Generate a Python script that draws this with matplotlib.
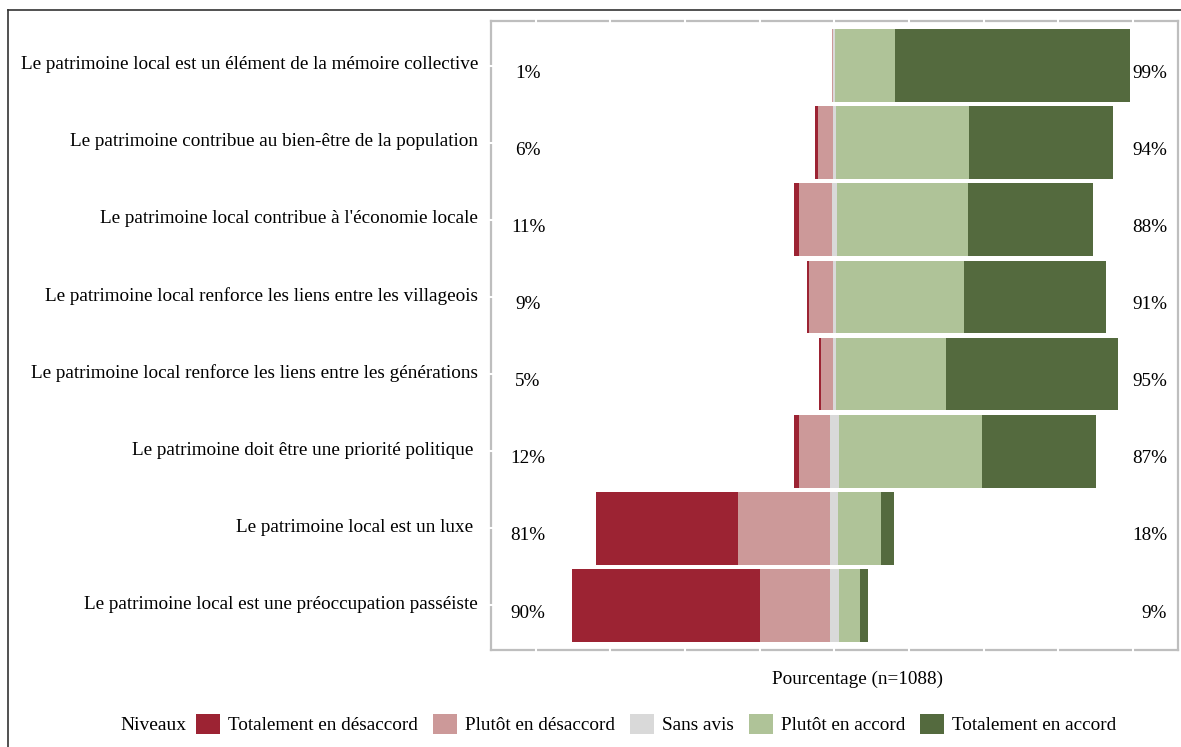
import numpy as np
import matplotlib
matplotlib.use("Agg")
from matplotlib import pyplot as plt
from matplotlib.lines import Line2D
from matplotlib.transforms import ScaledTranslation

plt.rcParams['font.family'] = ['Liberation Serif', 'DejaVu Serif']
fs = 13.8

questions = [
    "Le patrimoine local est un élément de la mémoire collective",
    "Le patrimoine contribue au bien-être de la population",
    "Le patrimoine local contribue à l'économie locale",
    "Le patrimoine local renforce les liens entre les villageois",
    "Le patrimoine local renforce les liens entre les générations",
    "Le patrimoine doit être une priorité politique ",
    "Le patrimoine local est un luxe ",
    "Le patrimoine local est une préoccupation passéiste",
]
levels = ["Totalement en désaccord", "Plutôt en désaccord", "Sans avis",
          "Plutôt en accord", "Totalement en accord"]
colors = ["#9c2333", "#cc9999", "#d9d9d9", "#afc398", "#546a3e"]

# percentages per level
tot_des = np.array([0.0, 1.0, 1.6, 0.7, 0.7, 1.7, 47.3, 63.0])
plut_des = np.array([0.5, 5.0, 11.0, 8.0, 4.0, 10.3, 31.0, 23.3])
sans_avis = np.array([0.6, 1.2, 1.9, 1.1, 0.8, 3.0, 2.6, 3.0])
plut_acc = np.array([20.1, 44.4, 43.8, 42.9, 36.9, 48.0, 14.3, 7.0])
tot_acc = np.array([78.6, 48.3, 41.7, 47.3, 57.7, 38.0, 4.3, 2.7])

low_pct = ["1%", "6%", "11%", "9%", "5%", "12%", "81%", "90%"]
high_pct = ["99%", "94%", "88%", "91%", "95%", "87%", "18%", "9%"]

W, H = 1181, 747
fig = plt.figure(figsize=(W / 100, H / 100), dpi=100)
ax = fig.add_axes([490.7 / W, 1 - 650 / H, (1178 - 490.7) / W, (650 - 21) / H])

y = np.arange(len(questions))
h = 0.944
half = sans_avis / 2

handles = []
handles.append(ax.barh(y, tot_des, h, left=-half - plut_des - tot_des, color=colors[0]))
handles.append(ax.barh(y, plut_des, h, left=-half - plut_des, color=colors[1]))
handles.append(ax.barh(y, sans_avis, h, left=-half, color=colors[2]))
handles.append(ax.barh(y, plut_acc, h, left=half, color=colors[3]))
handles.append(ax.barh(y, tot_acc, h, left=half + plut_acc, color=colors[4]))

for i in range(len(questions)):
    ax.text(-102.5, y[i] + 0.1, low_pct[i], ha='center', va='center', fontsize=fs)
    ax.text(111.3, y[i] + 0.1, high_pct[i], ha='right', va='center', fontsize=fs)

ax.set_xlim(-115, 115)
ax.set_ylim(len(questions) - 0.42, -0.58)
ax.set_yticks(y, questions, fontsize=fs)
ax.tick_params(axis='y', length=0, pad=9)
for lbl in ax.get_yticklabels():
    lbl.set_transform(lbl.get_transform() + ScaledTranslation(0, 0.03, fig.dpi_scale_trans))
ax.set_xticks([])
for s in ax.spines.values():
    s.set_color('#bebebe')
    s.set_linewidth(1.6)

# white gaps in the frame at the grid positions
xt = np.arange(-100, 101, 25)
ax.vlines(xt, -0.01, 0.01, transform=ax.get_xaxis_transform(), color='white', lw=1.5, clip_on=False, zorder=5)
ax.vlines(xt, 0.99, 1.01, transform=ax.get_xaxis_transform(), color='white', lw=1.5, clip_on=False, zorder=5)
ax.hlines(y, -0.004, 0.004, transform=ax.get_yaxis_transform(), color='white', lw=1.5, clip_on=False, zorder=5)

fig.text(858 / W, 1 - 679 / H, "Pourcentage (n=1088)", ha='center', va='center', fontsize=fs)

fig.text(120 / W, 1 - 725 / H, "Niveaux", ha='left', va='center', fontsize=14)
fig.legend(handles, levels, ncol=5, loc='center left', bbox_to_anchor=(196 / W, 1 - 724 / H),
           frameon=False, fontsize=fs, handlelength=1.25, handleheight=1.25,
           handletextpad=0.42, columnspacing=0.78, borderpad=0, borderaxespad=0)

# outer frame of the figure
fig.add_artist(Line2D([8 / W, 8 / W], [0, 1 - 10 / H], color='#333333', lw=1.2))
fig.add_artist(Line2D([8 / W, 1], [1 - 10 / H, 1 - 10 / H], color='#333333', lw=1.2))

fig.savefig("out.png", dpi=100)
